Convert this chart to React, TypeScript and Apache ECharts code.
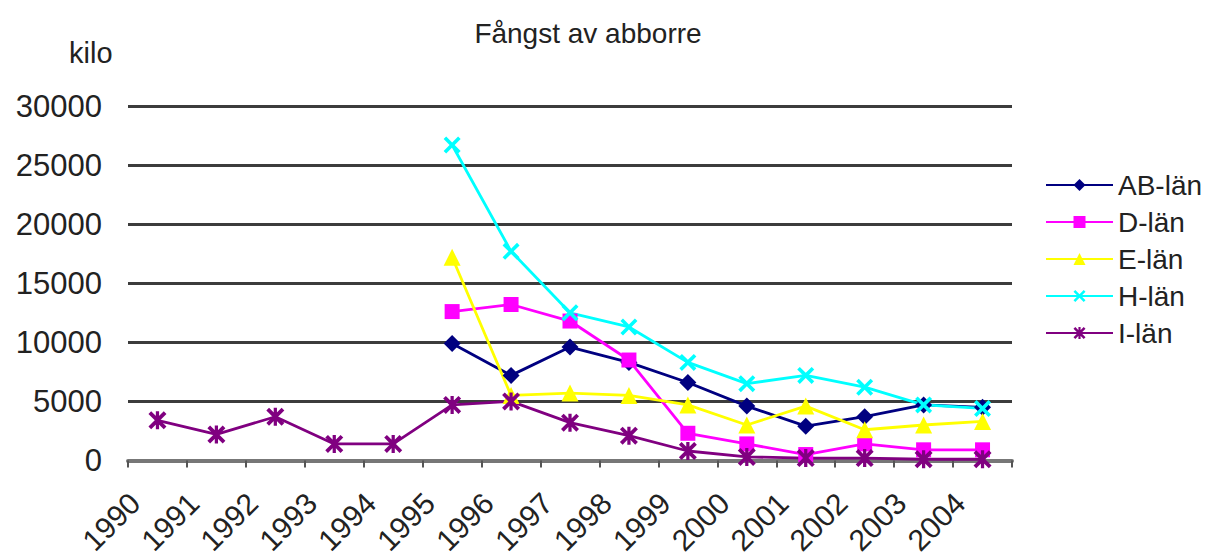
import React, { useEffect, useRef } from "react";
import * as echarts from "echarts";

const years = ["1990","1991","1992","1993","1994","1995","1996","1997","1998","1999","2000","2001","2002","2003","2004"];
const yTicks = { min: 0, max: 30000, interval: 5000 };
const abLan = [null, null, null, null, null, 9900, 7200, 9600, 8300, 6600, 4600, 2900, 3700, 4700, 4500];
const dLan = [null, null, null, null, null, 12600, 13200, 11800, 8500, 2300, 1400, 500, 1400, 900, 900];
const eLan = [null, null, null, null, null, 17200, 5500, 5700, 5500, 4700, 3000, 4600, 2600, 3000, 3300];
const hLan = [null, null, null, null, null, 26700, 17700, 12500, 11300, 8300, 6500, 7200, 6200, 4700, 4400];
const iLan = [3400, 2200, 3700, 1400, 1400, 4700, 5000, 3200, 2100, 800, 300, 200, 200, 100, 100];

const FONT = "'Liberation Sans', Arial, sans-serif";
const CROSS = "path://M0,1.5 L1.5,0 L5,3.5 L8.5,0 L10,1.5 L6.5,5 L10,8.5 L8.5,10 L5,6.5 L1.5,10 L0,8.5 L3.5,5 Z";
const STAR = "path://M0,1.5 L1.5,0 L5,3.5 L8.5,0 L10,1.5 L6.5,5 L10,8.5 L8.5,10 L5,6.5 L1.5,10 L0,8.5 L3.5,5 Z M4.1,0 L5.9,0 L5.9,10 L4.1,10 Z";

function mkSeries(name: string, data: (number | null)[], color: string, symbol: string, size: number) {
  return {
    name,
    type: "line",
    data,
    connectNulls: false,
    symbol,
    symbolSize: size,
    showSymbol: true,
    lineStyle: { color, width: 2.8 },
    itemStyle: { color, borderWidth: 0 },
    emphasis: { disabled: true },
  };
}

export default function App() {
  const ref = useRef<HTMLDivElement>(null);
  useEffect(() => {
    if (!ref.current) return;
    const chart = echarts.init(ref.current, undefined, { renderer: "svg" });
    chart.setOption({
      animation: false,
      backgroundColor: "#ffffff",
      textStyle: { fontFamily: FONT },
      grid: { left: 128, right: 203, top: 106, bottom: 97, containLabel: false },
      graphic: [
        {
          type: "text",
          x: 588,
          y: 33,
          style: { text: "Fångst av abborre", fontSize: 28, fontFamily: FONT, fill: "#222", align: "center", verticalAlign: "middle" },
        },
        {
          type: "text",
          x: 69,
          y: 53,
          style: { text: "kilo", fontSize: 29, fontFamily: FONT, fill: "#222", align: "left", verticalAlign: "middle" },
        },
      ],
      legend: {
        orient: "vertical",
        left: 1040,
        top: 166,
        itemWidth: 67,
        itemHeight: 15,
        itemGap: 9,
        textStyle: { fontSize: 28, fontFamily: FONT, color: "#222", lineHeight: 28, padding: [0, 0, 0, 0] },
        data: ["AB-län", "D-län", "E-län", "H-län", "I-län"],
      },
      xAxis: {
        type: "category",
        data: years,
        boundaryGap: true,
        axisLine: { show: true, lineStyle: { color: "#777", width: 4 } },
        axisTick: { show: true, alignWithLabel: false, length: 7, lineStyle: { color: "#555", width: 2 } },
        axisLabel: {
          rotate: 45,
          interval: 0,
          fontSize: 30,
          fontFamily: FONT,
          color: "#222",
          margin: 15,
          padding: [0, 32, 0, 0],
        },
        splitLine: { show: false },
      },
      yAxis: {
        type: "value",
        min: yTicks.min,
        max: yTicks.max,
        interval: yTicks.interval,
        axisLine: { show: false },
        axisTick: { show: false },
        axisLabel: { fontSize: 31, fontFamily: FONT, color: "#222", margin: 26, formatter: (v: number) => String(v) },
        splitLine: { show: true, lineStyle: { color: "#3c3c3c", width: 3 } },
      },
      series: [
        mkSeries("AB-län", abLan, "#000080", "diamond", 17),
        mkSeries("D-län", dLan, "#ff00ff", "rect", 15),
        mkSeries("E-län", eLan, "#ffff00", "triangle", 17),
        mkSeries("H-län", hLan, "#00ffff", CROSS, 17),
        mkSeries("I-län", iLan, "#800080", STAR, 18),
      ],
    });
    return () => chart.dispose();
  }, []);
  return <div ref={ref} style={{ position: "fixed", left: 0, top: 0, width: 1215, height: 558 }} />;
}
